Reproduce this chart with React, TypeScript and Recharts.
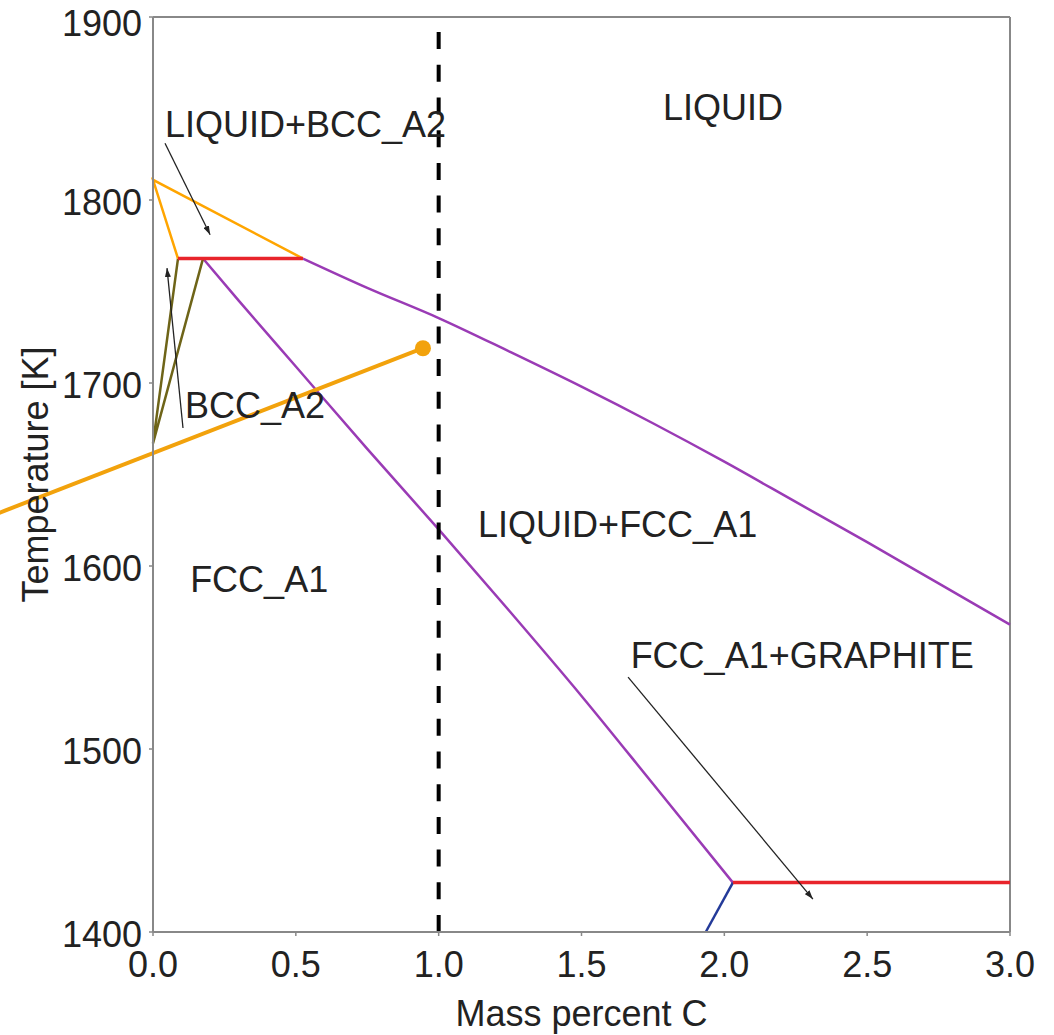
import {
  ComposedChart, Line, Scatter, XAxis, YAxis, ReferenceLine, ReferenceDot,
} from 'recharts'

// Fe-C phase diagram section
const X_TICKS = [0, 0.5, 1.0, 1.5, 2.0, 2.5, 3.0]
const Y_TICKS = [1400, 1500, 1600, 1700, 1800, 1900]

const liquidusBcc = [
  { x: 0.0875, y: 1768 },
  { x: 0, y: 1811 },
  { x: 0.525, y: 1768 },
]
const peritectic = [
  { x: 0.0875, y: 1768 },
  { x: 0.525, y: 1768 },
]
const bccFcc = [
  { x: 0.0875, y: 1768 },
  { x: 0, y: 1667 },
  { x: 0.175, y: 1768 },
]
const liquidusFcc = [
  { x: 0.525, y: 1768 },
  { x: 0.75, y: 1752 },
  { x: 1.0, y: 1735.5 },
  { x: 1.25, y: 1717 },
  { x: 1.5, y: 1698 },
  { x: 1.75, y: 1678 },
  { x: 2.0, y: 1657 },
  { x: 2.25, y: 1635 },
  { x: 2.5, y: 1613 },
  { x: 2.75, y: 1590.5 },
  { x: 3.0, y: 1568 },
]
const solidusFcc = [
  { x: 0.175, y: 1768 },
  { x: 0.3, y: 1745 },
  { x: 0.5, y: 1709 },
  { x: 0.75, y: 1664 },
  { x: 1.0, y: 1620 },
  { x: 1.25, y: 1575 },
  { x: 1.5, y: 1529 },
  { x: 1.75, y: 1481 },
  { x: 2.03, y: 1427 },
]
const eutectic = [
  { x: 2.03, y: 1427 },
  { x: 3.0, y: 1427 },
]
const fccGraphite = [
  { x: 2.03, y: 1427 },
  { x: 1.935, y: 1400 },
]
const composition = [
  { x: 1.0, y: 1400 },
  { x: 1.0, y: 1900 },
]
const tieLine = [
  { x: -0.6, y: 1625.3 },
  { x: 0.945, y: 1719 },
]
const point = { x: 0.945, y: 1719 }

const phaseLabels = [
  { x: 1.785, y: 1843.7, text: 'LIQUID' },
  { x: 0.042, y: 1834.4, text: 'LIQUID+BCC_A2' },
  { x: 0.112, y: 1680.7, text: 'BCC_A2' },
  { x: 0.13, y: 1585.8, text: 'FCC_A1' },
  { x: 1.138, y: 1615.8, text: 'LIQUID+FCC_A1' },
  { x: 1.672, y: 1544.1, text: 'FCC_A1+GRAPHITE' },
]

const arrowLiqBcc = [
  { x: 0.042, y: 1831 },
  { x: 0.2, y: 1781 },
]
const arrowBcc = [
  { x: 0.105, y: 1675.4 },
  { x: 0.049, y: 1762.8 },
]
const arrowGraphite = [
  { x: 1.663, y: 1539.3 },
  { x: 2.31, y: 1418 },
]

const FONT = '"Liberation Sans", Arial, sans-serif'
const TEXT = '#222'
const AXIS = '#888'

function PhaseLabel(props: any) {
  const { cx, cy, payload } = props
  return (
    <text x={cx} y={cy} fontSize={36} fontFamily={FONT} fill={TEXT}>
      {payload.text}
    </text>
  )
}

export default function App() {
  const lineProps = {
    dataKey: 'y',
    dot: false,
    activeDot: false,
    isAnimationActive: false,
    type: 'linear' as const,
  }

  return (
    <div style={{ position: 'absolute', left: 0, top: 0, width: 1054, height: 1035 }}>
      <svg width={0} height={0} style={{ position: 'absolute' }}>
        <defs>
          <marker
            id="arrowhead"
            markerWidth={9}
            markerHeight={6}
            refX={9}
            refY={3}
            orient="auto"
            markerUnits="userSpaceOnUse"
          >
            <path d="M0,0 L9,3 L0,6 z" fill={TEXT} />
          </marker>
        </defs>
      </svg>
      <ComposedChart
        width={1054}
        height={1035}
        margin={{ top: 17, right: 44, bottom: 0, left: 0 }}
      >
        <XAxis
          type="number"
          dataKey="x"
          domain={[0, 3]}
          ticks={X_TICKS}
          tickFormatter={(v: number) => v.toFixed(1)}
          height={103}
          stroke={AXIS}
          axisLine={{ stroke: AXIS, strokeWidth: 2 }}
          tickLine={{ stroke: AXIS, strokeWidth: 1.5 }}
          tickSize={4}
          tickMargin={15}
          tick={{ fill: TEXT, fontSize: 36, fontFamily: FONT }}
          label={{
            value: 'Mass percent C',
            position: 'insideBottom',
            offset: 9,
            style: { fill: TEXT, fontSize: 36, fontFamily: FONT },
          }}
        />
        <YAxis
          type="number"
          domain={[1400, 1900]}
          ticks={Y_TICKS}
          width={153}
          stroke={AXIS}
          axisLine={{ stroke: AXIS, strokeWidth: 2 }}
          tickLine={{ stroke: AXIS, strokeWidth: 1.5 }}
          tickSize={4}
          tickMargin={7}
          tick={{ fill: TEXT, fontSize: 36, fontFamily: FONT, dy: 2 }}
          label={{
            value: 'Temperature [K]',
            angle: -90,
            position: 'insideLeft',
            offset: 35,
            style: { fill: TEXT, fontSize: 36, fontFamily: FONT, textAnchor: 'middle' },
          }}
        />
        <ReferenceLine y={1900} stroke={AXIS} strokeWidth={2} />
        <ReferenceLine x={3} stroke={AXIS} strokeWidth={2} />

        <Scatter
          data={phaseLabels}
          dataKey="y"
          shape={PhaseLabel}
          isAnimationActive={false}
        />

        <Line {...lineProps} type="monotone" data={liquidusFcc} stroke="#9a3bb5" strokeWidth={2.5} />
        <Line {...lineProps} type="monotone" data={solidusFcc} stroke="#9a3bb5" strokeWidth={2.5} />
        <Line {...lineProps} data={fccGraphite} stroke="#233a99" strokeWidth={2.5} />
        <Line {...lineProps} data={bccFcc} stroke="#6e6418" strokeWidth={2.5} />
        <Line {...lineProps} data={liquidusBcc} stroke="#ffa500" strokeWidth={2.5} />
        <Line {...lineProps} data={peritectic} stroke="#e8242b" strokeWidth={3.5} />
        <Line {...lineProps} data={eutectic} stroke="#e8242b" strokeWidth={3.5} />

        <ReferenceLine
          segment={tieLine}
          ifOverflow="visible"
          stroke="#f2a20c"
          strokeWidth={4}
        />
        <ReferenceDot
          x={point.x}
          y={point.y}
          r={8}
          fill="#f2a20c"
          stroke="none"
          ifOverflow="visible"
        />

        <Line
          {...lineProps}
          data={composition}
          stroke="#000"
          strokeWidth={4}
          strokeDasharray="17 15.7"
        />

        <Line {...lineProps} data={arrowLiqBcc} stroke={TEXT} strokeWidth={1.3} markerEnd="url(#arrowhead)" />
        <Line {...lineProps} data={arrowBcc} stroke={TEXT} strokeWidth={1.3} markerEnd="url(#arrowhead)" />
        <Line {...lineProps} data={arrowGraphite} stroke={TEXT} strokeWidth={1.3} markerEnd="url(#arrowhead)" />
      </ComposedChart>
    </div>
  )
}
